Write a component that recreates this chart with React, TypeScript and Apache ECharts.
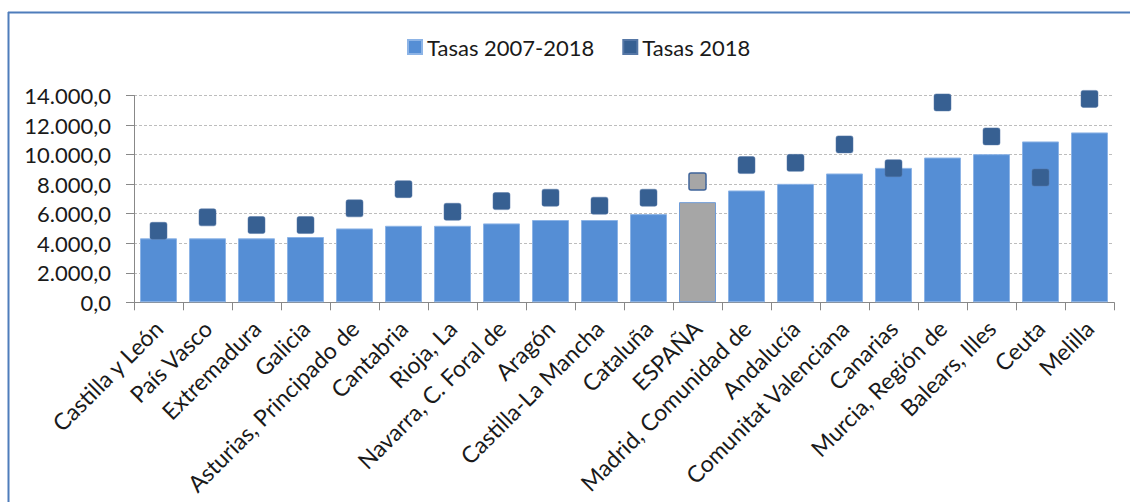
import React, { useEffect, useRef } from "react";
import * as echarts from "echarts";

const categories = [
  "Castilla y León", "País Vasco", "Extremadura", "Galicia", "Asturias, Principado de",
  "Cantabria", "Rioja, La", "Navarra, C. Foral de", "Aragón", "Castilla-La Mancha",
  "Cataluña", "ESPAÑA", "Madrid, Comunidad de", "Andalucía", "Comunitat Valenciana",
  "Canarias", "Murcia, Región de", "Balears, Illes", "Ceuta", "Melilla",
];
const tasas20072018 = [4330, 4330, 4330, 4420, 5000, 5180, 5180, 5340, 5570, 5570, 5970, 6780, 7570, 8020, 8720, 9100, 9800, 10030, 10890, 11500];
const tasas2018 = [4840, 5750, 5230, 5230, 6360, 7660, 6130, 6850, 7080, 6540, 7080, 8170, 9290, 9440, 10690, 9080, 13530, 11230, 8450, 13770];
const yTicks = [0, 2000, 4000, 6000, 8000, 10000, 12000, 14000];
const highlight = "ESPAÑA";

const FONT = "Lato";
const MARKER = "path://M1.2,0 H8.8 Q10,0 10,1.2 V8.8 Q10,10 8.8,10 H1.2 Q0,10 0,8.8 V1.2 Q0,0 1.2,0 Z";

function fmt(v: number) {
  const s = Math.round(v).toString().replace(/\B(?=(\d{3})+(?!\d))/g, ".");
  return s + ",0";
}

export default function App() {
  const ref = useRef<HTMLDivElement>(null);
  useEffect(() => {
    if (!ref.current) return;
    const chart = echarts.init(ref.current, undefined, { renderer: "svg" });
    const barData = tasas20072018.map((v, i) =>
      categories[i] === highlight
        ? { value: v, itemStyle: { color: "#A6A6A6", borderColor: "#6F9CD8" } }
        : v
    );
    const scatterData = tasas2018.map((v, i) =>
      categories[i] === highlight
        ? { value: v, itemStyle: { color: "#A6A6A6", borderColor: "#3F649A", borderWidth: 1.5 } }
        : v
    );
    chart.setOption({
      animation: false,
      backgroundColor: "#ffffff",
      textStyle: { fontFamily: FONT },
      legend: {
        top: 31,
        left: 402,
        itemWidth: 14,
        itemHeight: 14,
        itemGap: 28,
        icon: "rect",
        textStyle: { fontFamily: FONT, fontSize: 22, color: "#1a1a1a" },
        data: ["Tasas 2007-2018", "Tasas 2018"],
      },
      grid: { left: 134, right: 16, top: 95.5, bottom: 199.7, containLabel: false },
      xAxis: {
        type: "category",
        data: categories,
        boundaryGap: true,
        axisLine: { lineStyle: { color: "#888888", width: 1 } },
        axisTick: { show: true, alignWithLabel: false, length: 8, lineStyle: { color: "#888888" } },
        axisLabel: {
          rotate: 45,
          interval: 0,
          margin: 22,
          fontFamily: FONT,
          fontSize: 23,
          color: "#1a1a1a",
        },
      },
      yAxis: {
        type: "value",
        min: 0,
        max: 14000,
        interval: 2000,
        axisLine: { show: true, lineStyle: { color: "#888888" } },
        axisTick: { show: true, length: 8, lineStyle: { color: "#888888" } },
        splitLine: { show: true, lineStyle: { color: "#BDBDBD", type: [3, 2] } },
        axisLabel: {
          margin: 23,
          fontFamily: FONT,
          fontSize: 22,
          color: "#1a1a1a",
          formatter: (v: number) => (yTicks.includes(v) ? fmt(v) : ""),
        },
      },
      series: [
        {
          name: "Tasas 2007-2018",
          type: "bar",
          data: barData,
          barWidth: 37,
          itemStyle: { color: "#558ED5", borderColor: "#8DB4E6", borderWidth: 1 },
          z: 2,
        },
        {
          name: "Tasas 2018",
          type: "scatter",
          data: scatterData,
          symbol: MARKER,
          symbolSize: 17,
          itemStyle: { color: "#376092", borderColor: "#5577A6", borderWidth: 0.5, opacity: 1 },
          z: 3,
        },
      ],
      graphic: [
        { type: "line", shape: { x1: 8, y1: 12.5, x2: 1130, y2: 12.5 }, style: { stroke: "#4F7DBB", lineWidth: 2 } },
        { type: "line", shape: { x1: 8.5, y1: 12, x2: 8.5, y2: 502 }, style: { stroke: "#4F7DBB", lineWidth: 2 } },
      ],
    });
    return () => chart.dispose();
  }, []);
  return (
    <div
      ref={ref}
      style={{ position: "absolute", left: 0, top: 0, width: 1130, height: 502 }}
    />
  );
}
